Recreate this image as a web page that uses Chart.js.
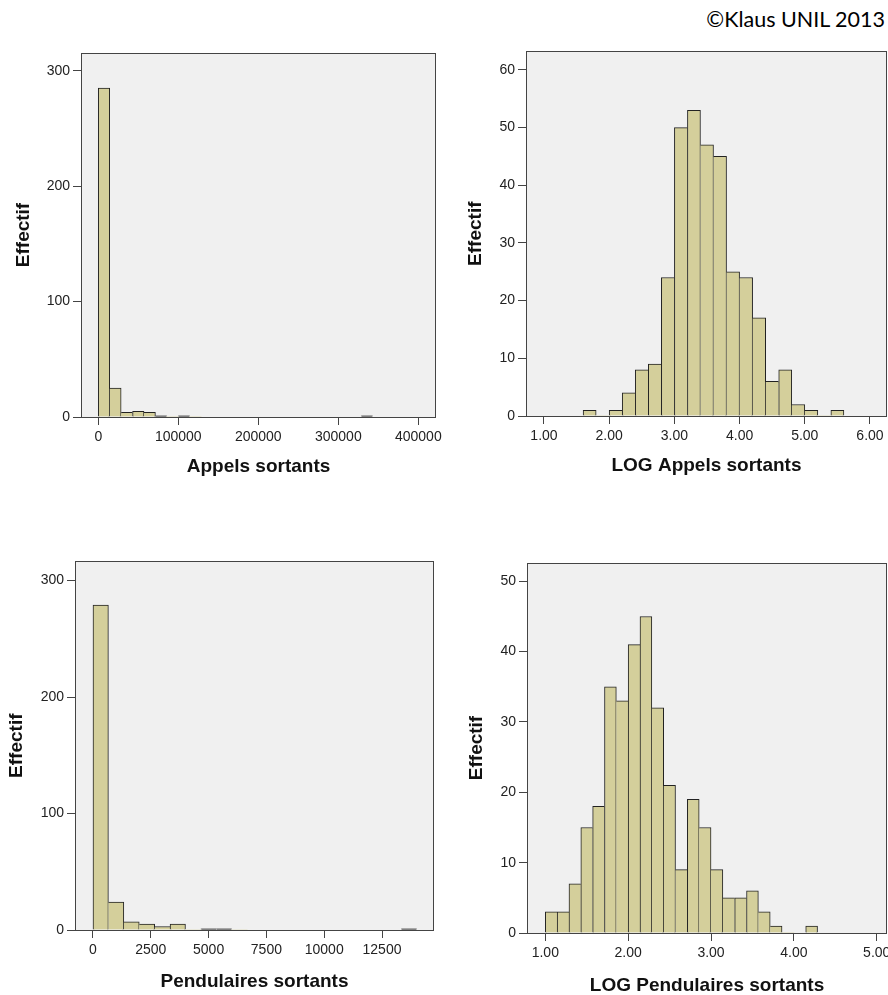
<!DOCTYPE html>
<html>
<head>
<meta charset="utf-8">
<script src="https://cdn.jsdelivr.net/npm/chart.js@4.4.1/dist/chart.umd.min.js"></script>
<style>
  body { margin: 0; background: #fff; width: 888px; height: 995px; overflow: hidden; position: relative; }
  canvas { position: absolute; }
  #copy { position: absolute; right: 3px; top: 7px; font: 21.5px Lato, "Open Sans", sans-serif; line-height: 24px; color: #000; }
</style>
</head>
<body>
<div id="copy">©Klaus UNIL 2013</div>
<canvas id="c1" width="450" height="460" style="left:0;top:40px"></canvas>
<canvas id="c2" width="450" height="460" style="left:450px;top:40px"></canvas>
<canvas id="c3" width="450" height="445" style="left:0;top:550px"></canvas>
<canvas id="c4" width="450" height="445" style="left:450px;top:550px"></canvas>
<script>
// counts per bin
const appelsCounts = [285, 25, 4, 5, 4, 1, 0, 1, 0, 0, 0, 0, 0, 0, 0, 0, 0, 0, 0, 0, 0, 0, 0, 1];
const appelsBinStart = 0;
const appelsBinWidth = 100000 / 7;

const logAppelsCounts = [1, 0, 1, 4, 8, 9, 24, 50, 53, 47, 45, 25, 24, 17, 6, 8, 2, 1, 0, 1];
const logAppelsBinStart = 1.6;
const logAppelsBinWidth = 0.2;

const pendCounts = [279, 24, 7, 5, 3, 5, 0, 1, 1, 0, 0, 0, 0, 0, 0, 0, 0, 0, 0, 0, 1];
const pendBinStart = 0;
const pendBinWidth = 14000 / 21;

const logPendCounts = [3, 3, 7, 15, 18, 35, 33, 41, 45, 32, 21, 9, 19, 15, 9, 5, 5, 6, 3, 1, 0, 0, 1];
const logPendBinStart = 1;
const logPendBinWidth = 1 / 7;

// tick labels
const appelsXTicks = [0, 100000, 200000, 300000, 400000];
const appelsYTicks = [0, 100, 200, 300];
const logAppelsXTicks = [1, 2, 3, 4, 5, 6];
const logAppelsYTicks = [0, 10, 20, 30, 40, 50, 60];
const pendXTicks = [0, 2500, 5000, 7500, 10000, 12500];
const pendYTicks = [0, 100, 200, 300];
const logPendXTicks = [1, 2, 3, 4, 5];
const logPendYTicks = [0, 10, 20, 30, 40, 50];

const FONT = '"Liberation Sans", Arial, sans-serif';
const BAR_FILL = '#d4cf9b';
const BAR_EDGE = '#222';

// grey plot background + frame, like SPSS
const framePlugin = {
  id: 'frame',
  beforeDraw(chart) {
    const { ctx, chartArea: a } = chart;
    ctx.save();
    ctx.fillStyle = '#f0f0f0';
    ctx.fillRect(a.left, a.top, a.right - a.left, a.bottom - a.top);
    ctx.restore();
  },
  afterDatasetsDraw(chart) {
    const { ctx, chartArea: a } = chart;
    ctx.save();
    ctx.strokeStyle = '#444';
    ctx.lineWidth = 1;
    ctx.strokeRect(Math.round(a.left) + 0.5, Math.round(a.top) + 0.5,
      Math.round(a.right - a.left) - 1, Math.round(a.bottom - a.top));
    ctx.restore();
  }
};

function histogram(id, counts, binStart, binWidth, xTicks, yTicks, xTitle, decimals, lay) {
  const points = counts.map((c, i) => ({ x: binStart + (i + 0.5) * binWidth, y: c }));
  return new Chart(document.getElementById(id), {
    type: 'bar',
    data: {
      datasets: [{
        data: points,
        // very short bars come out as a dark line in the original
        backgroundColor: ctx => {
          const y = ctx.chart.scales.y;
          if (!y || !ctx.raw) return BAR_FILL;
          const h = y.getPixelForValue(0) - y.getPixelForValue(ctx.raw.y);
          return h > 0 && h < 3 ? BAR_EDGE : BAR_FILL;
        },
        borderColor: BAR_EDGE,
        borderSkipped: false,
        // shared edges drawn once, by the taller neighbour
        borderWidth: ctx => {
          const i = ctx.dataIndex;
          const h = counts[i];
          const prev = i > 0 ? counts[i - 1] : 0;
          const next = i < counts.length - 1 ? counts[i + 1] : 0;
          return { top: 1, bottom: 0, left: h >= prev ? 1 : 0, right: h > next ? 1 : 0 };
        },
        barPercentage: 1,
        categoryPercentage: 1
      }]
    },
    options: {
      responsive: false,
      animation: false,
      layout: { padding: { top: lay.top, right: lay.right, left: 0, bottom: 0 } },
      plugins: { legend: { display: false }, tooltip: { enabled: false } },
      scales: {
        x: {
          type: 'linear',
          offset: false,
          min: lay.xMin,
          max: lay.xMax,
          afterFit: a => { a.height = lay.xAxisH; },
          afterBuildTicks: a => { a.ticks = xTicks.map(v => ({ value: v })); },
          grid: { drawOnChartArea: false, drawTicks: true, tickLength: 8, color: '#444', offset: false },
          border: { display: false },
          ticks: {
            autoSkip: false, maxRotation: 0, padding: 4, color: '#222',
            font: { family: FONT, size: 14 },
            callback: v => decimals ? v.toFixed(2) : String(v)
          },
          title: {
            display: true, text: xTitle, color: '#111',
            font: { family: FONT, size: 19, weight: 'bold' },
            padding: { top: 0, bottom: lay.xTitlePad }
          }
        },
        y: {
          min: 0,
          max: lay.yMax,
          afterFit: a => { a.width = lay.yAxisW; },
          afterBuildTicks: a => { a.ticks = yTicks.map(v => ({ value: v })); },
          grid: { drawOnChartArea: false, drawTicks: true, tickLength: 8, color: '#444' },
          border: { display: false },
          ticks: { autoSkip: false, padding: 3, color: '#222', font: { family: FONT, size: 14 } },
          title: {
            display: true, text: 'Effectif', color: '#111',
            font: { family: FONT, size: 19, weight: 'bold' },
            padding: { top: lay.yTitlePad, bottom: 0 }
          }
        }
      }
    },
    plugins: [framePlugin]
  });
}

histogram('c1', appelsCounts, appelsBinStart, appelsBinWidth, appelsXTicks, appelsYTicks,
  'Appels sortants', false,
  { top: 13, right: 14, yAxisW: 81, xAxisH: 83, xMin: -21600, xMax: 422100, yMax: 315.5, yTitlePad: 12.6, xTitlePad: 21.6 });

histogram('c2', logAppelsCounts, logAppelsBinStart, logAppelsBinWidth, logAppelsXTicks, logAppelsYTicks,
  'LOG Appels sortants', true,
  { top: 11, right: 13, yAxisW: 76, xAxisH: 84, xMin: 0.724, xMax: 6.261, yMax: 63.2, yTitlePad: 14.6, xTitlePad: 22.6 });

histogram('c3', pendCounts, pendBinStart, pendBinWidth, pendXTicks, pendYTicks,
  'Pendulaires sortants', false,
  { top: 8, right: 16, yAxisW: 75, xAxisH: 65, xMin: -778, xMax: 14749, yMax: 316.4, yTitlePad: 5.3, xTitlePad: 1.6 });

histogram('c4', logPendCounts, logPendBinStart, logPendBinWidth, logPendXTicks, logPendYTicks,
  'LOG Pendulaires sortants', true,
  { top: 13, right: 13, yAxisW: 77, xAxisH: 62, xMin: 0.779, xMax: 5.124, yMax: 52.6, yTitlePad: 15.3, xTitlePad: -2.4 });
</script>
</body>
</html>
